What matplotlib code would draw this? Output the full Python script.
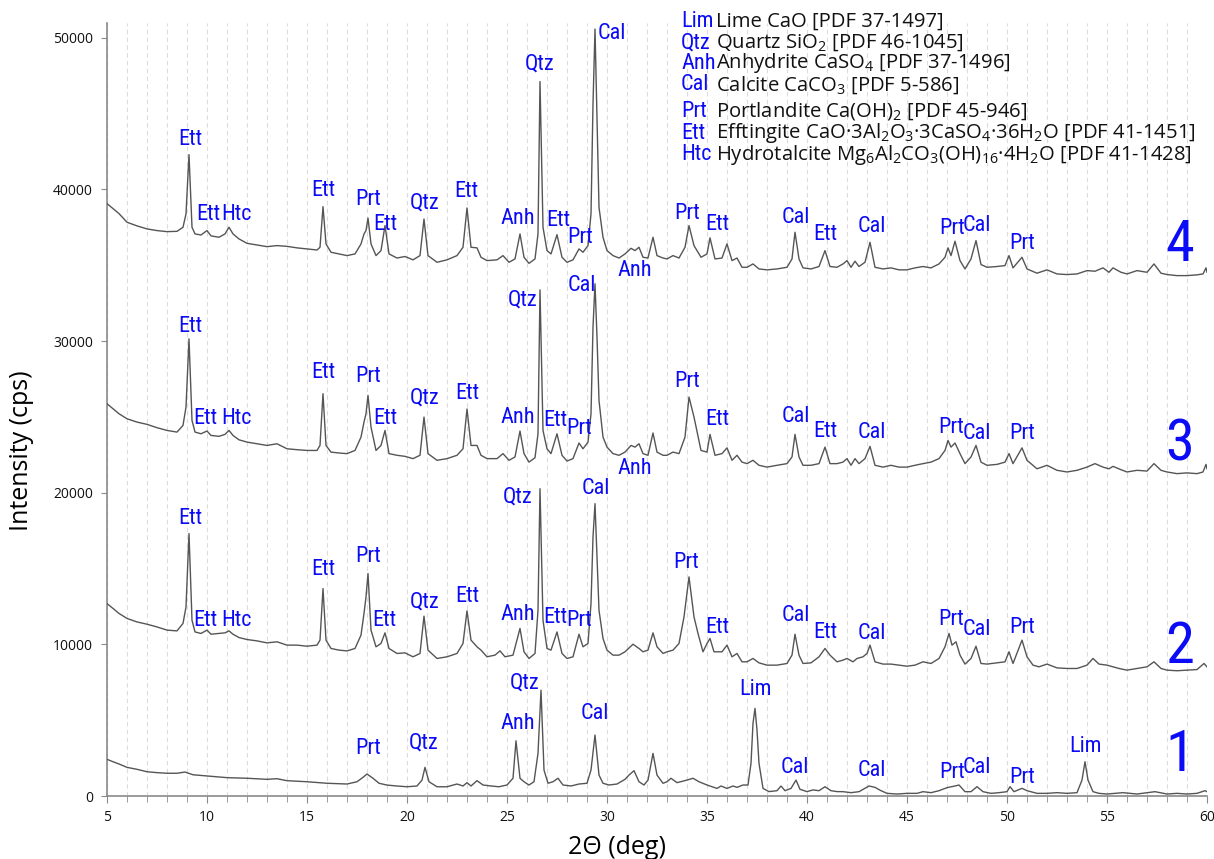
import matplotlib
matplotlib.use("Agg")
import matplotlib.pyplot as plt
from matplotlib import font_manager as fm
import numpy as np

# ---- traced diffractograms (2theta in deg, intensity in cps) ----------------
TT4 = [5.0, 5.3, 5.6, 6.0, 6.5, 7.0, 7.5, 8.0, 8.5, 8.8, 8.95, 9.1, 9.25, 9.4, 9.7,
       10.0, 10.2, 10.6, 10.9, 11.1, 11.3, 11.6, 12.0, 12.5, 13.0, 13.5, 14.0, 14.5,
       15.0, 15.5, 15.65, 15.8, 15.95, 16.2, 16.6, 17.0, 17.4, 17.7, 17.85, 17.95,
       18.05, 18.2, 18.45, 18.7, 18.9, 19.1, 19.5, 19.9, 20.3, 20.65, 20.85, 21.05,
       21.5, 22.0, 22.5, 22.8, 23.0, 23.2, 23.5, 23.7, 24.0, 24.5, 24.8, 25.1, 25.4,
       25.65, 25.85, 26.1, 26.4, 26.55, 26.65, 26.8, 27.0, 27.2, 27.5, 27.75, 28.0,
       28.3, 28.6, 28.8, 29.05, 29.2, 29.3, 29.4, 29.5, 29.6, 29.8, 30.0, 30.3, 30.6,
       30.9, 31.2, 31.4, 31.6, 31.8, 32.05, 32.3, 32.5, 32.8, 33.0, 33.3, 33.6, 33.9,
       34.1, 34.35, 34.7, 35.0, 35.15, 35.4, 35.75, 36.0, 36.25, 36.5, 36.75, 37.0,
       37.3, 37.6, 38.0, 38.5, 39.0, 39.25, 39.4, 39.6, 39.8, 40.2, 40.6, 40.9, 41.15,
       41.5, 41.8, 42.0, 42.2, 42.4, 42.6, 42.9, 43.15, 43.4, 43.8, 44.2, 44.6, 45.0,
       45.4, 45.8, 46.2, 46.6, 46.9, 47.05, 47.2, 47.4, 47.65, 47.9, 48.2, 48.45, 48.7,
       49.0, 49.5, 49.9, 50.1, 50.3, 50.75, 51.0, 51.5, 52.0, 52.5, 53.0, 53.5, 54.0,
       54.4, 54.8, 55.1, 55.3, 55.7, 56.0, 56.5, 57.0, 57.35, 57.7, 58.0, 58.5, 59.0,
       59.5, 59.8, 59.95, 60.0]
I4 = [39070, 38740, 38410, 37840, 37600, 37400, 37290, 37220, 37240, 37510, 38390, 42300,
      37510, 37070, 37000, 37290, 36940, 36850, 37070, 37510, 37070, 36740, 36450, 36340,
      36230, 36300, 36250, 36150, 36080, 36010, 36190, 38870, 36410, 35860, 35750, 35640,
      35750, 36410, 37070, 37290, 38120, 36410, 35640, 35970, 37620, 35750, 35480, 35580,
      35360, 35640, 38050, 35640, 35200, 35360, 35640, 36190, 38780, 36190, 36150, 35530,
      35310, 35360, 35640, 35200, 35420, 37070, 35530, 35130, 35420, 37070, 47120, 37510,
      35970, 35750, 37020, 35530, 35200, 35360, 36080, 35860, 36300, 38390, 45640, 50580,
      44540, 38820, 36850, 35970, 35640, 35480, 35750, 36120, 35970, 36190, 35530, 35480,
      36850, 35640, 35480, 35420, 35640, 35480, 36190, 37620, 36300, 35530, 35750, 36810,
      35420, 35480, 36410, 35310, 35480, 34870, 34870, 35090, 34760, 34700, 34760, 34870,
      35420, 37180, 35420, 34830, 34760, 34920, 35970, 34920, 34870, 35090, 35310, 34870,
      35270, 34920, 35200, 36520, 34870, 34760, 34830, 34700, 34700, 34830, 34920, 34830,
      35090, 35530, 36150, 35640, 36590, 35310, 34760, 35420, 36630, 35050, 34870, 34920,
      34980, 35640, 34830, 35530, 34760, 34480, 34700, 34430, 34390, 34430, 34650, 34610,
      34830, 34540, 34830, 34540, 34430, 34650, 34540, 35090, 34480, 34390, 34320, 34320,
      34370, 34430, 34830, 34540]

TT3 = TT4
I3 = [25870, 25540, 25210, 24880, 24660, 24510, 24290, 24110, 24000, 24440, 25650, 30150,
      24770, 24000, 23890, 24070, 23780, 23720, 23850, 24110, 23780, 23490, 23340, 23230,
      23120, 23230, 22900, 22840, 22790, 22790, 23120, 26530, 23120, 22680, 22620, 22580,
      22790, 23670, 24660, 25210, 26420, 24330, 22790, 23120, 24110, 22580, 22470, 22400,
      22250, 22470, 24990, 22580, 22140, 22250, 22470, 22900, 25520, 23120, 23120, 22470,
      22250, 22250, 22580, 22140, 22360, 24070, 22580, 22020, 22310, 23890, 33380, 24110,
      22900, 22580, 23890, 22470, 22090, 22250, 23280, 22900, 23340, 25210, 30920, 33780,
      30260, 26090, 23670, 23010, 22580, 22470, 22680, 23120, 23010, 23230, 22580, 22470,
      23940, 22680, 22470, 22470, 22680, 22580, 23670, 26310, 24990, 22790, 22680, 23850,
      22470, 22580, 22960, 22140, 22470, 22020, 21920, 22140, 21810, 21690, 21810, 21920,
      22360, 23850, 22360, 21810, 21810, 21920, 23010, 21920, 21920, 22020, 22250, 21810,
      22250, 21920, 22250, 23060, 21810, 21690, 21810, 21690, 21690, 21810, 21920, 22020,
      22250, 22790, 23450, 23010, 23280, 22580, 21920, 22360, 23120, 22020, 21810, 21870,
      22020, 22580, 21920, 22960, 22140, 21580, 21810, 21480, 21370, 21480, 21690, 21920,
      21690, 21580, 21740, 21520, 21370, 21480, 21430, 21920, 21480, 21370, 21260, 21310,
      21260, 21370, 21870, 21580]

TT2 = [5.0, 5.3, 5.6, 6.0, 6.5, 7.0, 7.5, 8.0, 8.5, 8.8, 8.95, 9.1, 9.25, 9.4, 9.7,
       10.0, 10.2, 10.6, 10.9, 11.1, 11.3, 11.6, 12.0, 12.5, 13.0, 13.5, 14.0, 14.5,
       15.0, 15.5, 15.65, 15.8, 15.95, 16.2, 16.6, 17.0, 17.4, 17.7, 17.85, 17.95,
       18.05, 18.2, 18.45, 18.7, 18.9, 19.1, 19.5, 19.9, 20.3, 20.65, 20.85, 21.05,
       21.5, 22.0, 22.5, 22.8, 23.0, 23.2, 23.5, 23.7, 24.0, 24.4, 24.65, 24.9, 25.3,
       25.65, 25.85, 26.1, 26.4, 26.55, 26.65, 26.8, 27.0, 27.2, 27.5, 27.75, 28.0,
       28.3, 28.6, 28.8, 29.05, 29.2, 29.3, 29.4, 29.5, 29.6, 29.8, 30.0, 30.3, 30.6,
       30.9, 31.3, 31.6, 31.8, 32.05, 32.3, 32.5, 32.8, 33.0, 33.3, 33.6, 33.85, 34.1,
       34.35, 34.55, 34.8, 35.0, 35.15, 35.35, 35.75, 36.0, 36.25, 36.5, 36.75, 37.0,
       37.3, 37.6, 38.0, 38.5, 39.0, 39.25, 39.4, 39.6, 39.8, 40.2, 40.6, 40.9, 41.15,
       41.5, 41.8, 42.0, 42.3, 42.5, 42.8, 43.0, 43.15, 43.4, 43.8, 44.2, 44.6, 45.0,
       45.4, 45.8, 46.2, 46.6, 46.9, 47.1, 47.25, 47.45, 47.65, 47.9, 48.2, 48.45, 48.7,
       49.0, 49.5, 49.9, 50.1, 50.3, 50.75, 51.0, 51.3, 51.6, 52.0, 52.5, 53.0, 53.5,
       54.0, 54.3, 54.6, 55.0, 55.3, 55.6, 56.0, 56.5, 57.0, 57.35, 57.7, 58.0, 58.5,
       59.0, 59.5, 59.85, 60.0]
I2 = [12690, 12370, 12040, 11710, 11480, 11330, 11150, 10940, 10890, 11380, 12470, 17310,
      11590, 10820, 10720, 10940, 10670, 10720, 10760, 10890, 10670, 10450, 10320, 10230,
      10100, 10170, 9950, 9950, 9880, 9950, 10280, 13680, 10280, 9730, 9620, 9570, 9730,
      10610, 12040, 13130, 14670, 10940, 9840, 10060, 10760, 9730, 9400, 9440, 9180, 9400,
      11860, 9620, 9070, 9180, 9400, 10060, 12210, 10280, 9840, 9620, 9180, 9290, 9570,
      9180, 9290, 11050, 9510, 9070, 9400, 12250, 20270, 11590, 9730, 9620, 10820, 9400,
      9070, 9180, 10670, 9840, 10060, 12690, 17080, 19280, 15770, 12250, 10390, 9620, 9290,
      9290, 9510, 10010, 9730, 9510, 9620, 10760, 9840, 9400, 9510, 9620, 10060, 11810,
      14450, 11810, 10720, 9510, 10060, 10390, 9510, 9510, 9950, 9180, 9400, 8850, 8850,
      9070, 8780, 8630, 8630, 8740, 9290, 10670, 9290, 8740, 8780, 9180, 9730, 9290, 8850,
      8960, 9070, 8850, 9070, 9180, 9400, 9950, 8850, 8700, 8700, 8630, 8560, 8630, 8850,
      8740, 9070, 9840, 10720, 9950, 10170, 9290, 8700, 9070, 9880, 8740, 8700, 8780, 8850,
      9510, 8740, 10280, 9180, 8630, 8520, 8700, 8450, 8410, 8410, 8630, 9070, 8700, 8630,
      8520, 8410, 8300, 8410, 8520, 8850, 8410, 8300, 8260, 8300, 8340, 8740, 8520]

TT1 = [5.0, 5.3, 5.6, 6.0, 6.5, 7.0, 7.5, 8.0, 8.5, 8.9, 9.3, 10.0, 11.0, 12.0, 13.0,
       13.5, 14.0, 15.0, 16.0, 17.0, 17.5, 17.8, 18.0, 18.3, 18.6, 19.0, 19.5, 20.0,
       20.5, 20.75, 20.9, 21.1, 21.5, 22.0, 22.5, 22.8, 23.0, 23.2, 23.5, 23.8, 24.2,
       24.6, 25.0, 25.3, 25.45, 25.65, 25.85, 26.1, 26.35, 26.55, 26.7, 26.85, 27.05,
       27.3, 27.55, 27.8, 28.2, 28.6, 29.0, 29.2, 29.4, 29.6, 29.8, 30.1, 30.5, 30.9,
       31.1, 31.35, 31.6, 31.85, 32.05, 32.3, 32.5, 32.8, 33.0, 33.2, 33.5, 34.0, 34.3,
       34.6, 35.0, 35.5, 35.7, 36.0, 36.3, 36.5, 36.8, 37.05, 37.2, 37.3, 37.4, 37.5,
       37.6, 37.8, 38.1, 38.5, 38.7, 38.9, 39.2, 39.45, 39.65, 40.0, 40.3, 40.6, 40.9,
       41.2, 41.5, 41.8, 42.2, 42.6, 42.9, 43.1, 43.4, 43.7, 44.0, 44.5, 45.0, 45.5,
       45.8, 46.2, 46.6, 47.0, 47.4, 47.6, 47.9, 48.2, 48.5, 48.8, 49.2, 49.6, 50.0,
       50.15, 50.35, 50.75, 51.0, 51.5, 52.0, 52.5, 53.0, 53.5, 53.75, 53.9, 54.05,
       54.3, 54.6, 55.0, 55.8, 56.5, 57.4, 58.0, 58.5, 59.0, 59.5, 59.9, 60.0]
I1 = [2420, 2260, 2110, 1890, 1760, 1600, 1540, 1500, 1500, 1580, 1400, 1320, 1210, 1170,
      1100, 1140, 1010, 940, 840, 790, 940, 1230, 1450, 1170, 840, 720, 660, 610, 660,
      1050, 1890, 940, 610, 610, 790, 660, 880, 660, 1010, 725, 660, 610, 725, 1170, 3640,
      1170, 940, 725, 940, 2810, 6980, 1710, 840, 940, 1170, 725, 660, 790, 840, 1710,
      4020, 1380, 840, 725, 790, 1100, 1380, 1670, 940, 725, 1050, 2810, 1380, 840, 940,
      1170, 880, 1050, 1170, 940, 725, 500, 660, 500, 660, 570, 725, 725, 2150, 4790, 5780,
      4350, 2150, 500, 290, 350, 660, 350, 500, 1050, 440, 290, 400, 350, 610, 350, 290,
      285, 220, 285, 505, 660, 570, 350, 175, 130, 175, 175, 285, 220, 350, 550, 660, 725,
      285, 285, 615, 285, 175, 220, 285, 615, 285, 505, 350, 175, 175, 220, 175, 220, 1050,
      2260, 1050, 285, 175, 130, 220, 130, 285, 130, 175, 130, 175, 350, 285]

# ---- phase labels (abbreviation, 2theta, intensity level) -------------------
LABEL_PHASE = ["Ett", "Ett", "Htc", "Ett", "Prt", "Ett", "Qtz", "Ett", "Anh", "Qtz", "Ett",
               "Prt", "Cal", "Anh", "Prt", "Ett", "Cal", "Ett", "Cal", "Prt", "Cal", "Prt",
               "Ett", "Ett", "Htc", "Ett", "Prt", "Ett", "Qtz", "Ett", "Anh", "Qtz", "Ett",
               "Prt", "Cal", "Anh", "Prt", "Ett", "Cal", "Ett", "Cal", "Prt", "Cal", "Prt",
               "Ett", "Ett", "Htc", "Ett", "Prt", "Ett", "Qtz", "Ett", "Anh", "Qtz", "Ett",
               "Prt", "Cal", "Prt", "Ett", "Cal", "Ett", "Cal", "Prt", "Cal", "Prt",
               "Prt", "Qtz", "Anh", "Qtz", "Cal", "Lim", "Cal", "Cal", "Prt", "Cal", "Prt",
               "Lim"]
LABEL_2THETA = [9.15, 10.05, 11.45, 15.8, 18.05, 18.9, 20.9, 22.95, 25.55, 26.65, 27.55,
                28.65, 30.25, 31.4, 34.0, 35.5, 39.45, 40.9, 43.25, 47.25, 48.5, 50.75,
                9.15, 9.9, 11.45, 15.8, 18.05, 18.9, 20.9, 23.0, 25.55, 25.8, 27.4,
                28.6, 28.75, 31.4, 34.0, 35.5, 39.45, 40.9, 43.25, 47.2, 48.5, 50.75,
                9.15, 9.9, 11.45, 15.8, 18.05, 18.85, 20.9, 23.0, 25.55, 25.55, 27.4,
                28.6, 29.45, 33.95, 35.5, 39.45, 40.9, 43.25, 47.2, 48.5, 50.75,
                18.05, 20.85, 25.55, 25.9, 29.4, 37.4, 39.4, 43.25, 47.25, 48.5, 50.75,
                53.9]
LABEL_Y = [43280, 38340, 38340, 39920, 39330, 37680, 39130, 39860, 38080, 48290, 37950,
           36830, 50270, 34650, 38410, 37680, 38140, 37020, 37550, 37420, 37620, 36430,
           30960, 24900, 24900, 27930, 27670, 24900, 26220, 26550, 24970, 32740, 24770,
           24240, 33660, 21610, 27340, 24840, 25030, 24050, 23980, 24310, 23910, 23910,
           18310, 11590, 11590, 14950, 15810, 11590, 12780, 13180, 11990, 19700, 11790,
           11590, 20290, 15420, 11130, 11920, 10800, 10740, 11660, 11000, 11130,
           3160, 3490, 4810, 7440, 5470, 7050, 1910, 1650, 1580, 1910, 1250, 3290]

SAMPLE_ID = ["4", "3", "2", "1"]
SAMPLE_Y = [36300, 23120, 9820, 2700]
SAMPLE_2THETA = 58.65

LEGEND_ABBR = ["Lim", "Qtz", "Anh", "Cal", "Prt", "Ett", "Htc"]
LEGEND_DESC = [
    "Lime CaO [PDF 37-1497]",
    "Quartz SiO$_2$ [PDF 46-1045]",
    "Anhydrite CaSO$_4$ [PDF 37-1496]",
    "Calcite CaCO$_3$ [PDF 5-586]",
    "Portlandite Ca(OH)$_2$ [PDF 45-946]",
    "Efftingite CaO·3Al$_2$O$_3$·3CaSO$_4$·36H$_2$O [PDF 41-1451]",
    "Hydrotalcite Mg$_6$Al$_2$CO$_3$(OH)$_{16}$·4H$_2$O [PDF 41-1428]",
]

BLUE = "#0b0bf5"
LINE = "#555555"


def narrow_font():
    """Pick a condensed face for the blue phase tags, if one is installed."""
    entries = [(f.name, str(f.stretch)) for f in fm.fontManager.ttflist]
    names = {n for n, _ in entries}
    for fam in ["Liberation Sans Narrow", "Roboto Condensed", "Open Sans Condensed",
                "Noto Sans Condensed", "DejaVu Sans Condensed", "Arial Narrow"]:
        if fam in names:
            return dict(family=fam), 1.0
    for fam in ["Noto Sans", "Open Sans", "DejaVu Sans", "Roboto"]:
        for n, st in entries:
            if n == fam and "condensed" in st and "semi" not in st and "extra" not in st:
                return dict(family=fam, stretch="condensed"), 1.0
    for fam in ["Noto Sans", "Open Sans", "DejaVu Sans", "Roboto"]:
        for n, st in entries:
            if n == fam and "condensed" in st:
                return dict(family=fam, stretch=st), 1.0
    return dict(family="Liberation Sans"), 0.95


NARROW, NSCALE = narrow_font()

plt.rcParams["font.family"] = ["Open Sans", "DejaVu Sans"]
plt.rcParams["mathtext.fontset"] = "custom"
plt.rcParams["mathtext.rm"] = "Open Sans"
plt.rcParams["mathtext.it"] = "Open Sans"

W, H = 1214, 859
fig = plt.figure(figsize=(W / 100, H / 100), dpi=100)
ax = fig.add_axes([107 / W, 1 - 796 / H, 1100 / W, (796 - 22.7) / H])

for tt, y in [(TT4, I4), (TT3, I3), (TT2, I2), (TT1, I1)]:
    ax.plot(tt, y, color=LINE, lw=1.0, zorder=3)

for name, x, y in zip(LABEL_PHASE, LABEL_2THETA, LABEL_Y):
    ax.text(x, y, name, color=BLUE, fontsize=16 * NSCALE, ha="center", va="center",
            zorder=4, **NARROW)

for sid, y in zip(SAMPLE_ID, SAMPLE_Y):
    ax.text(SAMPLE_2THETA, y, sid, color=BLUE, fontsize=42 * NSCALE, ha="center",
            va="center", zorder=4, **NARROW)

# legend block (top right)
rows = [21.7, 42.7, 63.3, 85.0, 111.5, 133.3, 155.0]
for abbr, desc, yp in zip(LEGEND_ABBR, LEGEND_DESC, rows):
    fig.text(681 / W, 1 - yp / H, abbr, color=BLUE, fontsize=16 * NSCALE,
             ha="left", va="center", **NARROW)
    fig.text(716 / W, 1 - yp / H, desc, color="#111111", fontsize=14.6,
             ha="left", va="center")

ax.set_xlim(5, 60)
ax.set_ylim(0, 51000)
ax.set_xticks(np.arange(5, 61, 5))
ax.set_xticks(np.arange(5, 61, 1), minor=True)
ax.set_yticks(np.arange(0, 50001, 10000))
ax.grid(axis="x", which="both", color="#dcdcdc", ls=(0, (4, 3)), lw=0.8, zorder=0)

for s in ["top", "right"]:
    ax.spines[s].set_visible(False)
for s in ["left", "bottom"]:
    ax.spines[s].set_color("#8a8a8a")
    ax.spines[s].set_linewidth(1.2)

ax.tick_params(axis="x", which="major", length=5, color="#8a8a8a", labelsize=10,
               pad=5, labelcolor="#111111")
ax.tick_params(axis="x", which="minor", length=4, color="#8a8a8a")
ax.tick_params(axis="y", length=4, color="#8a8a8a", labelsize=10, pad=6,
               labelcolor="#111111")

ax.set_xlabel("2Θ (deg)", fontsize=18)
ax.set_ylabel("Intensity (cps)", fontsize=18)
ax.xaxis.set_label_coords((617 - 107) / 1100, -(848 - 796) / 773.3)
ax.yaxis.set_label_coords((22 - 107) / 1100, (796 - 451) / 773.3)
ax.xaxis.label.set_va("center")
ax.yaxis.label.set_va("center")

fig.savefig("out.png", dpi=100, facecolor="white")
